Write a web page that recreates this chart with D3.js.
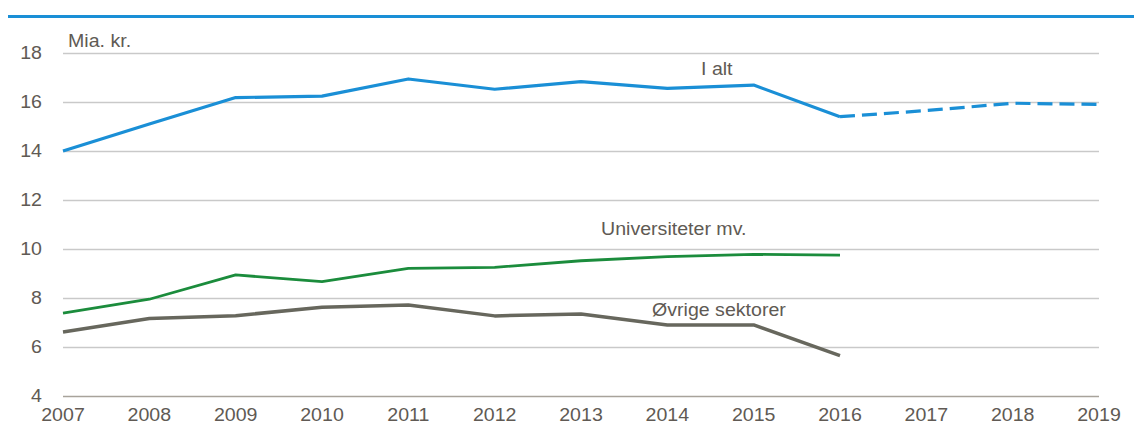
<!DOCTYPE html>
<html>
<head>
<meta charset="utf-8">
<script src="https://cdn.jsdelivr.net/npm/d3@7"></script>
<style>
  html, body { margin: 0; padding: 0; background: #fff; }
  text { font-family: "Liberation Sans", Arial, sans-serif; fill: #605a54; }
</style>
</head>
<body>
<svg id="chart" width="1134" height="441"></svg>
<script>
// data (Mia. kr.)
var years = [2007, 2008, 2009, 2010, 2011, 2012, 2013, 2014, 2015, 2016, 2017, 2018, 2019];
var iAlt = [14.0, 15.1, 16.18, 16.24, 16.94, 16.52, 16.83, 16.56, 16.69, 15.4];
var iAltForecast = [15.4, 15.65, 15.95, 15.9]; // 2016-2019
var universiteter = [7.38, 7.95, 8.94, 8.67, 9.21, 9.25, 9.52, 9.69, 9.78, 9.75];
var ovrige = [6.61, 7.16, 7.28, 7.62, 7.71, 7.27, 7.35, 6.9, 6.9, 5.65];
var yTicks = [4, 6, 8, 10, 12, 14, 16, 18];

var svg = d3.select("#chart");

var x = d3.scaleLinear().domain([2007, 2019]).range([63, 1099]);
var y = d3.scaleLinear().domain([4, 18]).range([396, 53]);

// top rule
svg.append("line")
    .attr("x1", 8).attr("x2", 1134)
    .attr("y1", 16.5).attr("y2", 16.5)
    .attr("stroke", "#1a8fd6").attr("stroke-width", 3);

// gridlines
svg.append("g").selectAll("line")
    .data(yTicks)
    .join("line")
    .attr("x1", x(2007)).attr("x2", x(2019))
    .attr("y1", function (d) { return Math.round(y(d)) + 0.5; })
    .attr("y2", function (d) { return Math.round(y(d)) + 0.5; })
    .attr("stroke", function (d) { return d === 4 ? "#a8a39b" : "#c9c9c9"; })
    .attr("stroke-width", 1.3);

// helper: stretched text (the original font is a bit wide)
function label(tx, ty, str, anchor) {
    return svg.append("text")
        .attr("transform", "translate(" + tx + "," + ty + ") scale(1.12,1)")
        .attr("text-anchor", anchor || "start")
        .attr("font-size", 17.5)
        .text(str);
}

// y tick labels
yTicks.forEach(function (t) {
    label(42, y(t) + 6, String(t), "end");
});

// x tick labels
years.forEach(function (yr) {
    label(x(yr), 421, String(yr), "middle");
});

var line = d3.line()
    .x(function (d) { return x(d[0]); })
    .y(function (d) { return y(d[1]); });

function pairs(vals, startYear) {
    return vals.map(function (v, i) { return [startYear + i, v]; });
}

svg.append("path")
    .attr("d", line(pairs(ovrige, 2007)))
    .attr("fill", "none").attr("stroke", "#67675d").attr("stroke-width", 3.5)
    .attr("stroke-linejoin", "round");

svg.append("path")
    .attr("d", line(pairs(universiteter, 2007)))
    .attr("fill", "none").attr("stroke", "#1b8c3c").attr("stroke-width", 2.8)
    .attr("stroke-linejoin", "round");

svg.append("path")
    .attr("d", line(pairs(iAlt, 2007)))
    .attr("fill", "none").attr("stroke", "#1a8fd6").attr("stroke-width", 3.2)
    .attr("stroke-linejoin", "round");

svg.append("path")
    .attr("d", line(pairs(iAltForecast, 2016)))
    .attr("fill", "none").attr("stroke", "#1a8fd6").attr("stroke-width", 3.2)
    .attr("stroke-dasharray", "15,7");

// series labels
label(68, 47, "Mia. kr.");
label(701, 75, "I alt");
label(601, 235, "Universiteter mv.");
label(652, 316, "Øvrige sektorer");
</script>
</body>
</html>
